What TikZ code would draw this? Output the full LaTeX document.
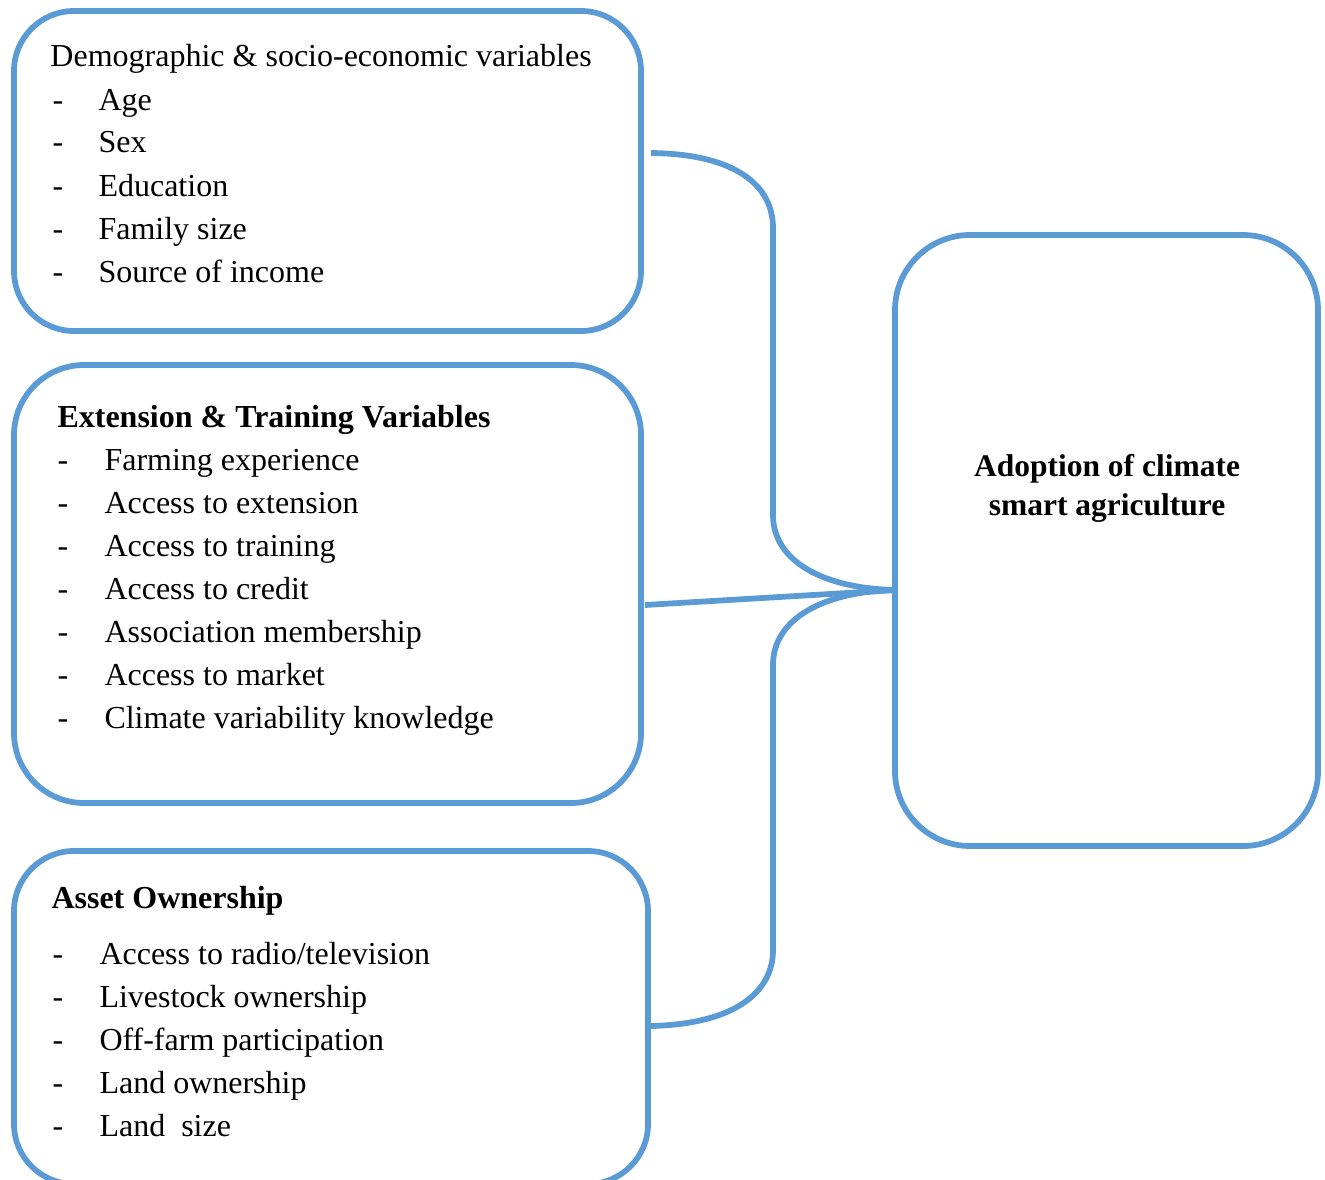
\documentclass[tikz,border=0pt]{standalone}
\usepackage{fontspec}
\setmainfont{Liberation Serif}
\definecolor{lineblue}{RGB}{91,155,213}
\begin{document}
\begin{tikzpicture}[x=0.4pt,y=-0.4pt,
  box/.style={draw=lineblue, line width=2.3pt, inner sep=0pt, outer sep=0pt, anchor=north west},
  conn/.style={draw=lineblue, line width=2.3pt},
  txt/.style={anchor=base west, inner sep=0pt, font=\fontsize{12.8pt}{15pt}\selectfont},
  ttl/.style={txt, font=\fontsize{12.8pt}{15pt}\selectfont\bfseries},
  ctr/.style={anchor=base, inner sep=0pt, font=\fontsize{12.6pt}{15pt}\selectfont\bfseries}]
\useasboundingbox (0,0) rectangle (1325,1179);

% boxes
\node[box, rounded corners=24pt, minimum width={627*0.4pt}, minimum height={320*0.4pt}] (b1) at (14,11) {};
\node[box, rounded corners=28pt, minimum width={627*0.4pt}, minimum height={438*0.4pt}] (b2) at (14,365) {};
\node[box, rounded corners=24pt, minimum width={634*0.4pt}, minimum height={333*0.4pt}] (b3) at (14,851) {};
\node[box, rounded corners=30pt, minimum width={423*0.4pt}, minimum height={611*0.4pt}] (b4) at (895,235) {};

% box 1 text
\node[txt] (t1) at (50,67) {Demographic \& socio-economic variables};
\foreach \i/\y/\s in {1/110/{Age}, 2/153/{Sex}, 3/196/{Education}, 4/239/{Family size}, 5/282/{Source of income}}{
  \node[txt] (d1\i) at (52,\y) {-};
  \node[txt] (i1\i) at (98,\y) {\s};
}

% box 2 text
\node[ttl] (t2) at (57,427) {Extension \& Training Variables};
\foreach \i/\y/\s in {1/470/{Farming experience}, 2/513/{Access to extension}, 3/556/{Access to training}, 4/599/{Access to credit}, 5/642/{Association membership}, 6/685/{Access to market}, 7/728/{Climate variability knowledge}}{
  \node[txt] (d2\i) at (57,\y) {-};
  \node[txt] (i2\i) at (104,\y) {\s};
}

% box 3 text
\node[ttl] (t3) at (51,908) {Asset Ownership};
\foreach \i/\y/\s in {1/964/{Access to radio/television}, 2/1007/{Livestock ownership}, 3/1050/{Off-farm participation}, 4/1093/{Land ownership}, 5/1136/{Land\ \ size}}{
  \node[txt] (d3\i) at (52,\y) {-};
  \node[txt] (i3\i) at (99,\y) {\s};
}

% box 4 text
\node[ctr] (t4a) at (1107,476) {Adoption of climate};
\node[ctr] (t4b) at (1107,515) {smart agriculture};

% connectors
\coordinate (s1) at (651,153);
\coordinate (s2) at (645,605);
\coordinate (s3) at (651,1026);
\coordinate (m) at (897,590);

\draw[conn] (s1) .. controls (735,154) and (773,185) .. (773,228)
  -- (773,515) .. controls (773,562) and (825,589) .. (m);
\draw[conn] (s3) .. controls (735,1024) and (773,992) .. (773,950)
  -- (773,665) .. controls (773,618) and (825,591) .. (m);
\draw[conn] (s2) -- (m);
\end{tikzpicture}
\end{document}
